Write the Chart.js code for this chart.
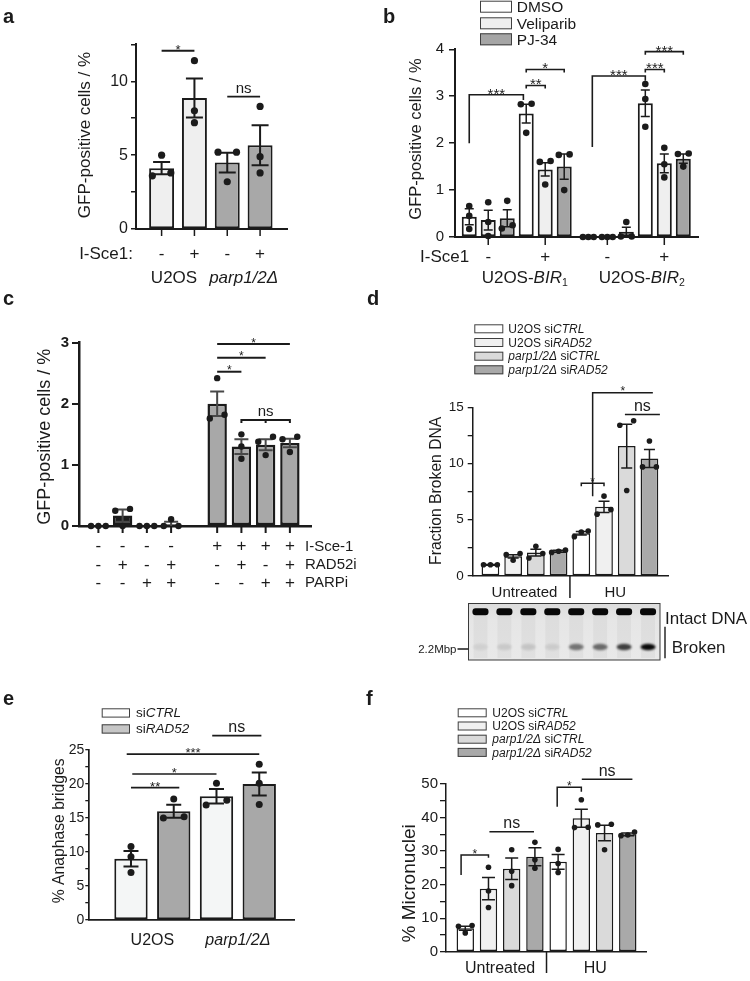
<!DOCTYPE html>
<html><head><meta charset="utf-8">
<script src="https://cdn.jsdelivr.net/npm/chart.js@4.4.1/dist/chart.umd.min.js"></script>
<style>
html,body{margin:0;padding:0;background:#fff;overflow:hidden;}
#wrap{position:relative;width:750px;height:981px;}
canvas{position:absolute;left:0;top:0;}
</style></head><body><div id="wrap">
<canvas id="ca" width="750" height="981"></canvas>
<canvas id="cb" width="750" height="981"></canvas>
<canvas id="cc" width="750" height="981"></canvas>
<canvas id="cd" width="750" height="981"></canvas>
<canvas id="ce" width="750" height="981"></canvas>
<canvas id="cf" width="750" height="981"></canvas>
</div>
<script>
// ---------------- DATA ----------------
// Panel a
const aCells = ['U2OS', 'parp1/2Δ'];
const aSce1 = ['-', '+', '-', '+'];
const aMean = [4.12, 8.87, 4.5, 5.67];
const aSem = [0.42, 1.32, 0.67, 1.35];
const aPoints = [[5.0, 3.6, 3.8], [11.4, 8.0, 7.2], [5.2, 5.2, 3.2], [8.3, 4.9, 3.8]];
const aSig = [{x1: 0, x2: 1, y: 12.07, label: '*'}, {x1: 2, x2: 3, y: 8.96, label: 'ns'}];

// Panel b
const bTreat = ['DMSO', 'Veliparib', 'PJ-34'];
const bSce1 = ['-', '+', '-', '+'];
const bLines = [[['U2OS-'], ['BIR', 'i'], ['1', 's']], [['U2OS-'], ['BIR', 'i'], ['2', 's']]];
const bMean = [0.43, 0.36, 0.40, 2.63, 1.44, 1.50, 0, 0, 0.11, 2.85, 1.57, 1.67];
const bSem = [0.17, 0.21, 0.18, 0.20, 0.14, 0.27, 0, 0, 0.10, 0.28, 0.20, 0.10];
const bPoints = [[0.66, 0.45, 0.17], [0.74, 0.32, 0.02], [0.77, 0.25, 0.18], [2.84, 2.83, 2.22], [1.62, 1.60, 1.12], [1.75, 1.76, 1.0],
                 [0, 0, 0], [0, 0, 0], [0.32, 0.01, 0.01], [3.26, 2.94, 2.35], [1.9, 1.55, 1.27], [1.78, 1.77, 1.5]];
const bSig = [
  {x1: 0, x2: 2.85, y: 3.03, leg1: 2.0, leg2: 2.92, label: '***'},
  {x1: 3, x2: 4, y: 3.23, end: 3, label: '**'},
  {x1: 3, x2: 5, y: 3.57, end: 3, label: '*'},
  {x1: 6.48, x2: 9.27, y: 3.43, leg1: 1.92, leg2: 3.33, label: '***'},
  {x1: 9.27, x2: 10.27, y: 3.57, end: 3, label: '***'},
  {x1: 9.27, x2: 11.27, y: 3.95, end: 3, label: '***'}
];

// Panel c
const cRowNames = ['I-Sce-1', 'RAD52i', 'PARPi'];
const cRows = [['-', '-', '-', '-', '+', '+', '+', '+'],
               ['-', '+', '-', '+', '-', '+', '-', '+'],
               ['-', '-', '+', '+', '-', '-', '+', '+']];
const cMean = [0, 0.17, 0, 0.03, 2.0, 1.3, 1.33, 1.36];
const cSem = [0, 0.10, 0, 0.04, 0.20, 0.12, 0.09, 0.07];
const cPoints = [[0, 0, 0], [0.28, 0.25, 0], [0, 0, 0], [0.11, 0, 0], [2.42, 1.76, 1.82], [1.5, 1.3, 1.1], [1.46, 1.38, 1.16], [1.46, 1.42, 1.21]];
const cSig = [
  {x1: 4.9, x2: 5.9, y: 2.525, label: '*'},
  {x1: 4.9, x2: 6.9, y: 2.755, label: '*'},
  {x1: 4.9, x2: 7.9, y: 2.98, label: '*'},
  {x1: 5.9, x2: 7.9, y: 1.735, end: 3, marks: [6.9], label: 'ns'}
];

// Panel d
const dSeries = [[['U2OS si'], ['CTRL', 'i']], [['U2OS si'], ['RAD52', 'i']],
                 [['parp1/2Δ', 'i'], [' si'], ['CTRL', 'i']], [['parp1/2Δ', 'i'], [' si'], ['RAD52', 'i']]];
const dConds = ['Untreated', 'HU'];
const dMean = [1.0, 1.75, 2.08, 2.2, 3.8, 6.15, 11.55, 10.45];
const dSem = [0.03, 0.15, 0.3, 0.08, 0.15, 0.5, 1.95, 0.8];
const dPoints = [[1, 1, 1], [2.0, 1.9, 1.4], [2.65, 2.0, 1.6], [2.3, 2.2, 2.1], [4.0, 3.9, 3.5], [7.1, 5.9, 5.5], [13.8, 13.4, 7.6], [12.0, 9.7, 9.7]];
const dGelIntact = [1, 1, 1, 1, 1, 1, 1, 1];
const dGelBroken = [0.07, 0.1, 0.12, 0.09, 0.5, 0.55, 0.75, 1.0];
const dSig = [
  {x1: 4.5, x2: 7.15, y: 16.3, leg1: 7.1, label: '*'},
  {x1: 5.92, x2: 7.46, y: 14.37, label: 'ns'},
  {x1: 4, x2: 5, y: 8.24, end: 3, label: '*'}
];

// Panel e
const eSeries = [[['si'], ['CTRL', 'i']], [['si'], ['RAD52', 'i']]];
const eCells = [[['U2OS']], [['parp1/2Δ', 'i']]];
const eMean = [9.0, 16.0, 18.2, 20.0];
const eSem = [1.15, 0.95, 1.05, 1.7];
const ePoints = [[10.8, 9.3, 7.0], [17.8, 15.0, 15.2], [20.1, 16.9, 17.6], [22.9, 20.1, 17.0]];
const eSig = [
  {x1: 0, x2: 1.13, y: 19.46, label: '**'},
  {x1: 0.03, x2: 2, y: 21.47, label: '*'},
  {x1: -0.1, x2: 3, y: 24.4, label: '***'},
  {x1: 1.9, x2: 3.05, y: 27.1, label: 'ns'}
];

// Panel f
const fSeries = dSeries;
const fConds = ['Untreated', 'HU'];
const fMean = [7.0, 18.8, 24.7, 28.3, 26.8, 39.8, 35.4, 35.0];
const fSem = [0.6, 3.3, 3.2, 2.7, 2.2, 2.7, 2.3, 0.4];
const fPoints = [[7.8, 7.6, 5.6], [25.2, 18.1, 13.2], [30.4, 24.0, 19.7], [32.6, 27.4, 24.9], [30.5, 26.3, 23.6], [45.3, 37.1, 37.0], [38.0, 37.8, 30.4], [35.7, 34.8, 34.6]];
const fSig = [
  {x1: -0.18, x2: 1, y: 28.8, leg1: 22.9, leg2: 28.0, label: '*'},
  {x1: 1.04, x2: 2.96, y: 35.8, label: 'ns'},
  {x1: 3.96, x2: 5, y: 49.0, leg1: 43.2, leg2: 47.7, label: '*'},
  {x1: 5.02, x2: 7.2, y: 51.4, label: 'ns'}
];

// ---------------- HELPERS ----------------
const FONT = '"Liberation Sans", Arial, Helvetica, sans-serif';
const INK = '#1b1b1b';
const WHITE = '#ffffff', LIGHT = '#efefef', MID = '#dadada', DARK = '#a8a8a8';

function font(size, o = {}) { return (o.italic ? 'italic ' : '') + (o.bold ? 'bold ' : '') + size + 'px ' + FONT; }
function txt(ctx, s, x, y, size, o = {}) {
  ctx.save(); ctx.font = font(size, o); ctx.fillStyle = o.color || INK;
  ctx.textAlign = o.align || 'center'; ctx.textBaseline = o.base || 'alphabetic';
  ctx.fillText(s, x, y); ctx.restore();
}
function rich(ctx, parts, x, y, size, align = 'center') {
  ctx.save(); ctx.fillStyle = INK; ctx.textBaseline = 'alphabetic'; ctx.textAlign = 'left';
  const sz = f => (f || '').includes('s') ? size * 0.62 : size;
  const w = parts.map(([t, f]) => { ctx.font = font(sz(f), {italic: (f || '').includes('i')}); return ctx.measureText(t).width; });
  const tot = w.reduce((a, b) => a + b, 0);
  let cx = align === 'center' ? x - tot / 2 : (align === 'right' ? x - tot : x);
  parts.forEach(([t, f], k) => {
    ctx.font = font(sz(f), {italic: (f || '').includes('i')});
    ctx.fillText(t, cx, y + ((f || '').includes('s') ? size * 0.2 : 0)); cx += w[k];
  });
  ctx.restore();
}
function vtitle(ctx, s, cx, cy, size) {
  ctx.save(); ctx.translate(cx, cy); ctx.rotate(-Math.PI / 2); ctx.font = font(size);
  ctx.fillStyle = INK; ctx.textAlign = 'center'; ctx.textBaseline = 'middle'; ctx.fillText(s, 0, 0); ctx.restore();
}
function lines(ctx, segs, w) {
  ctx.save(); ctx.strokeStyle = INK; ctx.lineWidth = w; ctx.beginPath();
  segs.forEach(([x1, y1, x2, y2]) => { ctx.moveTo(x1, y1); ctx.lineTo(x2, y2); }); ctx.stroke(); ctx.restore();
}
function legend(ctx, items, colors, x, tops, w, h, size, tx) {
  items.forEach((parts, k) => {
    ctx.save(); ctx.fillStyle = colors[k]; ctx.fillRect(x, tops[k], w, h);
    ctx.strokeStyle = '#404040'; ctx.lineWidth = 1; ctx.strokeRect(x + 0.5, tops[k] + 0.5, w - 1, h - 1); ctx.restore();
    rich(ctx, parts, tx, tops[k] + h - 0.3, size, 'left');
  });
}
function brackets(ctx, X, Y, list, o) {
  list.forEach(b => {
    const x1 = X(b.x1), x2 = X(b.x2), yy = Y(b.y), e = b.end || 0;
    ctx.save(); ctx.strokeStyle = INK; ctx.lineWidth = o.w; ctx.beginPath();
    ctx.moveTo(x1, b.leg1 != null ? Y(b.leg1) : yy + e); ctx.lineTo(x1, yy);
    ctx.lineTo(x2, yy); ctx.lineTo(x2, b.leg2 != null ? Y(b.leg2) : yy + e);
    (b.marks || []).forEach(m => { ctx.moveTo(X(m), yy); ctx.lineTo(X(m), yy + e); });
    ctx.stroke(); ctx.restore();
    const lx = b.lx != null ? X(b.lx) : (x1 + x2) / 2;
    if (b.label === 'ns') txt(ctx, 'ns', lx, yy - 3.5, o.ns);
    else txt(ctx, b.label, lx, yy - 2.5 + 0.43 * o.star, o.star);
  });
}
function drawErrDots(chart, P) {
  const ctx = chart.ctx, ys = chart.scales.y, meta = chart.getDatasetMeta(0);
  ctx.save();
  P.mean.forEach((m, i) => {
    const s = P.sem[i]; if (!(s > 0)) return;
    const cx = meta.data[i].x, hw = P.capW / 2;
    const y1 = ys.getPixelForValue(m + s), lo = Math.max(0, m - s), y2 = ys.getPixelForValue(lo);
    ctx.strokeStyle = P.errColor || INK; ctx.lineWidth = P.errW; ctx.beginPath();
    ctx.moveTo(cx, y1); ctx.lineTo(cx, y2); ctx.moveTo(cx - hw, y1); ctx.lineTo(cx + hw, y1);
    if (m - s > 0) { ctx.moveTo(cx - hw, y2); ctx.lineTo(cx + hw, y2); }
    ctx.stroke();
  });
  ctx.fillStyle = INK;
  const thr = 1.7 * P.dotR;
  P.points.forEach((pts, i) => {
    const el = meta.data[i], cx = el.x, bw = el.width;
    const items = pts.map(v => ({v, py: ys.getPixelForValue(v)})).sort((a, b) => b.py - a.py);
    const cl = []; let cur = [];
    items.forEach(it => {
      if (cur.length && Math.abs(it.py - cur[cur.length - 1].py) < thr) cur.push(it);
      else { if (cur.length) cl.push(cur); cur = [it]; }
    });
    if (cur.length) cl.push(cur);
    cl.forEach(c => c.forEach((it, j) => {
      const off = c.length === 1 ? 0 : (j / (c.length - 1) - 0.5) * P.spread * bw;
      ctx.beginPath(); ctx.arc(cx + off, it.py, P.dotR, 0, Math.PI * 2); ctx.fill();
    }));
  });
  ctx.restore();
}
function panel(id, P) {
  const yW = 60;
  return new Chart(document.getElementById(id), {
    type: 'bar',
    data: {datasets: [{
      data: P.mean.map((m, i) => ({x: P.pos[i], y: m})),
      backgroundColor: P.colors, borderColor: INK, borderWidth: P.borderW, borderSkipped: false,
      barPercentage: P.barPct, categoryPercentage: 1
    }]},
    options: {
      responsive: false, animation: false, devicePixelRatio: 1, events: [],
      layout: {padding: {left: P.area.l - yW, right: 750 - P.area.r, top: P.area.t, bottom: 981 - P.area.b}},
      plugins: {legend: {display: false}, tooltip: {enabled: false}},
      scales: {
        x: {type: 'linear', min: P.xMin, max: P.xMax, offset: false, afterFit(s) { s.height = 0; },
            ticks: {display: false}, grid: {display: false}, border: {display: true, color: INK, width: P.axisW}},
        y: {type: 'linear', min: 0, max: P.yMax, afterFit(s) { s.width = yW; },
            ticks: {stepSize: P.yStep, autoSkip: false, padding: P.tickPad, color: INK,
                    font: {family: FONT, size: P.tickSize, weight: P.tickBold ? 'bold' : 'normal'},
                    callback: v => { const r = Math.abs(v % P.yEvery); return (r < 1e-6 || Math.abs(r - P.yEvery) < 1e-6) ? String(v) : ''; }},
            grid: {drawOnChartArea: false, drawTicks: true, tickLength: P.tickLen, color: INK, lineWidth: P.tickW},
            border: {display: true, color: INK, width: P.axisW}}
      }
    },
    plugins: [{id: 'ov' + id,
      afterDatasetsDraw(chart) { drawErrDots(chart, P); },
      afterDraw(chart) {
        const X = v => chart.scales.x.getPixelForValue(v), Y = v => chart.scales.y.getPixelForValue(v);
        P.extra(chart.ctx, X, Y);
      }}]
  });
}

// ---------------- PANEL a ----------------
const aPos = aMean.map((_, i) => i);
panel('ca', {
  area: {l: 136, t: 44.4, r: 287, b: 229}, xMin: -0.78, xMax: 3.82, yMax: 12.5, yStep: 2.5, yEvery: 5,
  pos: aPos, mean: aMean, sem: aSem, points: aPoints, colors: [LIGHT, LIGHT, DARK, DARK],
  barPct: 0.76, borderW: 2, axisW: 2, tickSize: 16, tickLen: 5, tickPad: 3, tickW: 1.5,
  dotR: 3.6, capW: 17, errW: 2, spread: 0.74,
  extra(ctx, X, Y) {
    txt(ctx, 'a', 3, 23, 20, {bold: true, align: 'left'});
    vtitle(ctx, 'GFP-positive cells / %', 85, 135, 17);
    lines(ctx, aPos.map(p => [X(p), Y(0), X(p), Y(0) + 7]), 1.5);
    aSce1.forEach((s, i) => txt(ctx, s, X(aPos[i]), 254, 17, {base: 'middle'}));
    txt(ctx, 'I-Sce1:', 133, 254, 17, {align: 'right', base: 'middle'});
    rich(ctx, [[aCells[0]]], X(0.5) - 4, 283, 17);
    rich(ctx, [[aCells[1], 'i']], X(2.5), 283, 17);
    brackets(ctx, X, Y, aSig, {w: 1.8, star: 13, ns: 15});
  }
});

// ---------------- PANEL b ----------------
const bPos = bMean.map((_, i) => i + (i >= 6 ? 0.27 : 0));
const bColors = bMean.map((_, i) => [WHITE, LIGHT, '#a5a5a5'][i % 3]);
panel('cb', {
  area: {l: 455, t: 49.3, r: 698.3, b: 237}, xMin: -0.75, xMax: 12.06, yMax: 4, yStep: 1, yEvery: 1,
  pos: bPos, mean: bMean, sem: bSem, points: bPoints, colors: bColors,
  barPct: 0.79, borderW: 2, axisW: 2, tickSize: 15, tickLen: 6, tickPad: 5, tickW: 1.5,
  dotR: 3.3, capW: 9, errW: 1.5, spread: 0.72,
  extra(ctx, X, Y) {
    txt(ctx, 'b', 383, 23, 20, {bold: true, align: 'left'});
    legend(ctx, bTreat.map(t => [[t]]), [WHITE, LIGHT, '#a5a5a5'], 480, [0.7, 17.3, 33.3], 32, 12, 15.5, 516.7);
    vtitle(ctx, 'GFP-positive cells / %', 416.7, 139, 16.5);
    const gc = bSce1.map((s, g) => bPos[g * 3 + 1]);
    lines(ctx, gc.map(p => [X(p), Y(0), X(p), Y(0) + 8]), 1.5);
    bSce1.forEach((s, g) => txt(ctx, s, X(gc[g]), 257.5, 17, {base: 'middle'}));
    txt(ctx, 'I-Sce1', 420, 257.5, 17, {align: 'left', base: 'middle'});
    rich(ctx, bLines[0], X((bPos[0] + bPos[5]) / 2) + 8, 282.5, 17);
    rich(ctx, bLines[1], X((bPos[6] + bPos[11]) / 2) + 6, 282.5, 17);
    brackets(ctx, X, Y, bSig, {w: 1.6, star: 15, ns: 15});
  }
});

// ---------------- PANEL c ----------------
const cPos = cMean.map((_, i) => i + (i >= 4 ? 0.9 : 0));
const cColors = cMean.map((_, i) => i === 1 ? '#1a1a1a' : DARK);
panel('cc', {
  area: {l: 79, t: 342.7, r: 311.7, b: 526}, xMin: -0.8, xMax: 8.8, yMax: 3, yStep: 1, yEvery: 1,
  pos: cPos, mean: cMean, sem: cSem, points: cPoints, colors: cColors,
  barPct: 0.8, borderW: 2.5, axisW: 2.5, tickSize: 15, tickBold: true, tickLen: 7, tickPad: 3, tickW: 2,
  dotR: 3.2, capW: 14, errW: 2, errColor: '#484848', spread: 0.76,
  extra(ctx, X, Y) {
    txt(ctx, 'c', 3, 305, 20, {bold: true, align: 'left'});
    vtitle(ctx, 'GFP-positive cells / %', 45, 436.7, 18);
    lines(ctx, cPos.map(p => [X(p), Y(0), X(p), Y(0) + 7]), 2);
    const rowY = [546.7, 565, 583.3];
    cRows.forEach((row, r) => {
      row.forEach((s, i) => txt(ctx, s, X(cPos[i]), rowY[r], 17, {base: 'middle'}));
      txt(ctx, cRowNames[r], 305, rowY[r], 15, {align: 'left', base: 'middle'});
    });
    brackets(ctx, X, Y, cSig, {w: 2, star: 12, ns: 15});
  }
});

// ---------------- PANEL d ----------------
const dPos = dMean.map((_, i) => i);
const dPal = [WHITE, '#f0f0f0', MID, '#a9a9a9'];
panel('cd', {
  area: {l: 472.7, t: 407.3, r: 668.3, b: 576}, xMin: -0.78, xMax: 7.83, yMax: 15, yStep: 2.5, yEvery: 5,
  pos: dPos, mean: dMean, sem: dSem, points: dPoints, colors: dMean.map((_, i) => dPal[i % 4]),
  barPct: 0.78, borderW: 1.5, axisW: 1.5, tickSize: 13.5, tickLen: 5, tickPad: 4, tickW: 1.3,
  dotR: 2.8, capW: 11, errW: 1.5, spread: 0.78,
  extra(ctx, X, Y) {
    txt(ctx, 'd', 367, 305, 20, {bold: true, align: 'left'});
    legend(ctx, dSeries, dPal, 474.3, [324.3, 338, 351.7, 365.3], 29, 9, 12, 508.3);
    vtitle(ctx, 'Fraction Broken DNA', 436.7, 490.8, 15.7);
    lines(ctx, [[X(3.5), Y(0), X(3.5), 598]], 1.5);
    txt(ctx, dConds[0], X(1.5), 597, 15);
    txt(ctx, dConds[1], X(5.5), 597, 15);
    brackets(ctx, X, Y, dSig, {w: 1.5, star: 12, ns: 16});
    // gel image
    const L = 468.5, R = 660, T = 603.5, B = 660, n = dGelBroken.length, lw = (R - L) / n;
    ctx.save();
    const g = ctx.createLinearGradient(0, T, 0, B);
    g.addColorStop(0, '#dcdcdc'); g.addColorStop(0.3, '#e6e6e6'); g.addColorStop(1, '#e9e9e9');
    ctx.fillStyle = g; ctx.fillRect(L, T, R - L, B - T);
    for (let i = 0; i < n; i++) {
      const cx = L + (i + 0.5) * lw;
      ctx.fillStyle = 'rgba(0,0,0,0.035)'; ctx.fillRect(cx - 7, T + 12, 14, B - T - 14);
      ctx.filter = 'blur(0.6px)';
      ctx.fillStyle = 'rgba(8,8,8,' + dGelIntact[i] + ')';
      ctx.beginPath(); ctx.roundRect(cx - 8, 608.3, 16, 7, 3); ctx.fill();
      ctx.filter = 'blur(1.2px)';
      ctx.fillStyle = 'rgba(10,10,10,' + dGelBroken[i] + ')';
      ctx.beginPath(); ctx.ellipse(cx, 647, 7.5, 3.2, 0, 0, Math.PI * 2); ctx.fill();
      ctx.filter = 'none';
    }
    ctx.strokeStyle = '#3a3a3a'; ctx.lineWidth = 1; ctx.strokeRect(L, T, R - L, B - T);
    ctx.restore();
    txt(ctx, 'Intact DNA', 665, 623.5, 17, {align: 'left'});
    txt(ctx, 'Broken', 671.7, 653, 17, {align: 'left'});
    lines(ctx, [[665, 626.7, 665, 658.3], [457.5, 649, 468.5, 649]], 1.4);
    txt(ctx, '2.2Mbp', 456.5, 652.5, 11.5, {align: 'right'});
  }
});

// ---------------- PANEL e ----------------
const ePos = eMean.map((_, i) => i);
panel('ce', {
  area: {l: 89.3, t: 750, r: 294.3, b: 920}, xMin: -0.975, xMax: 3.82, yMax: 25, yStep: 2.5, yEvery: 5,
  pos: ePos, mean: eMean, sem: eSem, points: ePoints, colors: ['#f4f6f6', DARK, '#f4f6f6', DARK],
  barPct: 0.78, borderW: 2, axisW: 1.7, tickSize: 14, tickLen: 4, tickPad: 1, tickW: 1.3,
  dotR: 3.5, capW: 15, errW: 2, spread: 0.62,
  extra(ctx, X, Y) {
    txt(ctx, 'e', 3, 705, 20, {bold: true, align: 'left'});
    legend(ctx, eSeries, [WHITE, '#c6c6c6'], 101.7, [708.3, 724.3], 28.3, 9.3, 13.5, 136);
    vtitle(ctx, '% Anaphase bridges', 60, 830.8, 15.7);
    rich(ctx, eCells[0], X(0.5), 945, 16);
    rich(ctx, eCells[1], X(2.5), 945, 16);
    brackets(ctx, X, Y, eSig, {w: 1.7, star: 13, ns: 16});
  }
});

// ---------------- PANEL f ----------------
const fPos = fMean.map((_, i) => i);
panel('cf', {
  area: {l: 446, t: 784, r: 646.8, b: 951.7}, xMin: -0.83, xMax: 7.82, yMax: 50, yStep: 5, yEvery: 10,
  pos: fPos, mean: fMean, sem: fSem, points: fPoints, colors: fMean.map((_, i) => dPal[i % 4]),
  barPct: 0.75, borderW: 1.5, axisW: 1.5, tickSize: 15, tickLen: 6, tickPad: 2, tickW: 1.3,
  dotR: 2.8, capW: 13, errW: 1.5, spread: 0.78,
  extra(ctx, X, Y) {
    txt(ctx, 'f', 366, 705, 20, {bold: true, align: 'left'});
    legend(ctx, fSeries, dPal, 457.7, [708.3, 721.5, 734.7, 747.9], 29, 9, 12, 492.3);
    vtitle(ctx, '% Micronuclei', 410, 883.3, 19);
    lines(ctx, [[X(3.5), Y(0), X(3.5), 973]], 1.5);
    txt(ctx, fConds[0], X(1.5), 973, 16);
    txt(ctx, fConds[1], X(5.6), 973, 16);
    brackets(ctx, X, Y, fSig, {w: 1.5, star: 12, ns: 16});
  }
});
</script></body></html>
